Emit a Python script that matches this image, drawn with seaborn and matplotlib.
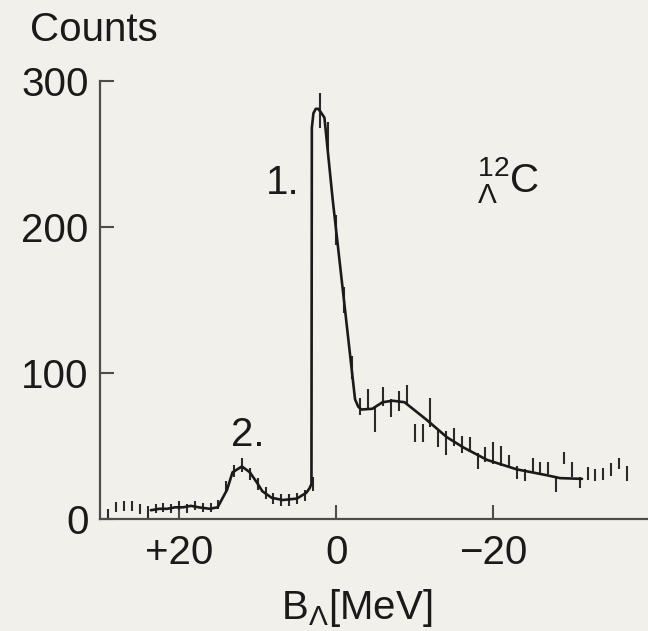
import numpy as np
import pandas as pd
import matplotlib
matplotlib.use('Agg')
import matplotlib.pyplot as plt
import seaborn as sns

### Data
############################################################################

# binding energy bins, 1 MeV wide, from +29 down to -37 MeV
energy = np.arange(29, -38, -1)

counts = [4, 8, 9, 9, 7, 5, 7, 8, 7, 9, 7, 9, 8, 8, 10,
          22, 33, 37, 31, 24, 18, 14, 13, 13, 14, 16, 24,
          280, 262, 198, 150, 104,
          77, 82, 68, 84, 76, 81, 85, 59, 59, 73, 55, 52, 56, 51, 51,
          40, 44, 45, 43, 40, 32, 30, 37, 35, 35, 24, 42, 34, 25,
          31, 30, 31, 34, 38, 31]

errors = [3, 3.5, 3.5, 3.5, 3.5, 4, 3, 3, 3, 3, 3, 3, 3, 3, 3,
          4, 4, 5, 4, 4, 4, 4, 4, 4, 4, 4, 5,
          12, 10, 10, 9, 8,
          6, 7, 8.5, 6.5, 6, 7, 6.5, 6, 6, 10, 6, 8, 6, 6, 5,
          5.5, 5, 7.5, 7, 3.5, 4.5, 4, 5, 4, 4, 5.5, 4, 5, 3.5,
          4.5, 4, 4, 4.5, 4, 5]

# fitted curve
fit_energy = [23.6, 22.5, 21.5, 20.5, 19.5, 18.5, 17.5, 16.1, 15.1, 13.9, 13.2,
              12.0, 11.0, 10.1, 9.4, 8.2, 6.8, 5.0, 3.8, 3.4, 3.15, 3.1, 2.9,
              2.6, 2.3, 2.0, 1.5, 0.45, -2.4, -2.8, -3.2, -4.6, -5.9, -7.2,
              -8.7, -11.5, -14.1, -16.2, -19.2, -23.0, -26.8, -28.5, -31.3]
fit_counts = [6, 7, 7, 8, 8, 9, 8, 7, 8, 20, 32,
              36, 32, 25, 19, 14.5, 13, 14, 18, 21, 24, 268, 278,
              281, 281, 279, 275, 219, 82, 77, 75, 75.5, 80, 81,
              80, 68, 56, 49, 40.5, 34, 30, 28, 27.5]

x_ticks = [20, 0, -20]
x_ticklabels = ['+20', '0', '\u221220']
y_ticks = [0, 100, 200, 300]

### Plot
############################################################################

bg = '#f2f0eb'
ink = '#1a1a1a'
axis_col = '#4d4d4d'
fs = 29

sns.set_style('ticks')
plt.rcParams['font.family'] = ['Liberation Sans', 'DejaVu Sans']
plt.rcParams['mathtext.fontset'] = 'custom'
plt.rcParams['mathtext.rm'] = 'Liberation Sans'
plt.rcParams['mathtext.it'] = 'Liberation Sans'

df_data = pd.DataFrame({'B': energy, 'Counts': counts, 'err': errors})
df_fit = pd.DataFrame({'B': fit_energy, 'Counts': fit_counts})

fig = plt.figure(figsize=(6.48, 6.31), dpi=100, facecolor=bg)
ax = fig.add_axes([0.154, 0.1775, 0.846, 0.694], facecolor=bg)

ax.errorbar(df_data['B'], df_data['Counts'], yerr=df_data['err'], fmt='none',
            ecolor='#2a2a2a', elinewidth=1.5, capsize=0)
sns.lineplot(data=df_fit, x='B', y='Counts', sort=False, estimator=None,
             color=ink, linewidth=1.9, ax=ax)

ax.set_xlim(30.1, -39.7)
ax.set_ylim(0, 300)
ax.set_xlabel('')
ax.set_ylabel('')

ax.set_xticks(x_ticks)
ax.set_xticklabels(x_ticklabels)
ax.set_yticks(y_ticks)
ax.tick_params(axis='both', direction='in', length=10, width=1.5, colors=axis_col,
               labelcolor=ink, labelsize=fs)
ax.tick_params(axis='x', pad=11)
ax.tick_params(axis='y', pad=8)

sns.despine(ax=ax, top=True, right=True)
for s in ['left', 'bottom']:
	ax.spines[s].set_color(axis_col)
	ax.spines[s].set_linewidth(1.6)

# annotations
fig.text(94/648, 1 - 30/631, 'Counts', ha='center', va='center', fontsize=fs, color=ink)
fig.text(283/648, 1 - 183/631, '1.', ha='center', va='center', fontsize=fs, color=ink)
fig.text(248/648, 1 - 435/631, '2.', ha='center', va='center', fontsize=fs, color=ink)
fig.text(508/648, 1 - 180/631, r'$\mathregular{{}^{12}_{\Lambda}C}$', ha='center', va='center',
         fontsize=fs, color=ink)
fig.text(357/648, 1 - 619/631, r'$\mathregular{B_{\Lambda}}$[MeV]', ha='center', va='baseline',
         fontsize=fs, color=ink)

fig.savefig('out.png', dpi=100, facecolor=bg)
